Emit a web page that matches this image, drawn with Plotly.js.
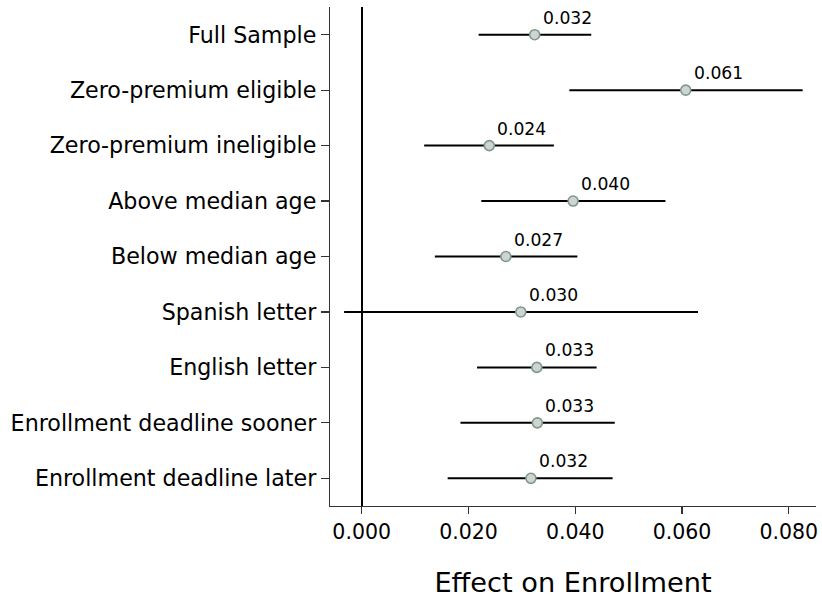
<!DOCTYPE html>
<html>
<head>
<meta charset="utf-8">
<script src="https://cdn.plot.ly/plotly-3.0.1.min.js"></script>
<style>html,body{margin:0;padding:0;background:#fff;}#chart{width:822px;height:598px;}</style>
</head>
<body>
<div id="chart"></div>
<script>
const categories = [
  "Full Sample",
  "Zero-premium eligible",
  "Zero-premium ineligible",
  "Above median age",
  "Below median age",
  "Spanish letter",
  "English letter",
  "Enrollment deadline sooner",
  "Enrollment deadline later"
];
const estimates = [0.0324, 0.0607, 0.0239, 0.0396, 0.0270, 0.0298, 0.0328, 0.0329, 0.0317];
const ciLower   = [0.0219, 0.0389, 0.0117, 0.0224, 0.0137, -0.0033, 0.0216, 0.0185, 0.0161];
const ciUpper   = [0.0430, 0.0826, 0.0360, 0.0569, 0.0404, 0.0630, 0.0440, 0.0474, 0.0470];
const xTicks = [0, 0.02, 0.04, 0.06, 0.08];

const font = "DejaVu Sans, Verdana, sans-serif";

const trace = {
  type: "scatter",
  mode: "markers",
  x: estimates,
  y: categories,
  marker: {size: 10, color: "#d0d3d1", line: {color: "#7b9a8b", width: 1.6}},
  error_x: {
    type: "data", symmetric: false,
    array: estimates.map((v, i) => ciUpper[i] - v),
    arrayminus: estimates.map((v, i) => v - ciLower[i]),
    width: 0, thickness: 2, color: "#000"
  },
  hoverinfo: "x+y",
  showlegend: false
};

const annotations = estimates.map((v, i) => ({
  x: v, y: categories[i], xref: "x", yref: "y",
  text: v.toFixed(3), showarrow: false,
  xanchor: "left", yanchor: "middle", xshift: 6, yshift: 17,
  font: {family: font, size: 17.2, color: "#000"}
}));

const layout = {
  width: 822, height: 598,
  margin: {l: 330, r: 6, t: 7, b: 92, pad: 0},
  paper_bgcolor: "#fff", plot_bgcolor: "#fff",
  font: {family: font, color: "#000"},
  xaxis: {
    range: [-0.00594, 0.0851],
    tickvals: xTicks,
    tickformat: ".3f",
    ticks: "outside", ticklen: 7, tickwidth: 1.2, tickcolor: "#333",
    showline: true, linecolor: "#333", linewidth: 1.2, mirror: false,
    showgrid: false,
    zeroline: true, zerolinecolor: "#000", zerolinewidth: 2,
    tickfont: {family: font, size: 20.5, color: "#000"},
    title: {text: "Effect on Enrollment", font: {family: font, size: 27.2, color: "#000"}, standoff: 30}
  },
  yaxis: {
    type: "category",
    categoryorder: "array", categoryarray: categories,
    range: [8.5, -0.5],
    ticks: "outside", ticklen: 8, tickwidth: 1.2, tickcolor: "#333",
    showline: true, linecolor: "#333", linewidth: 1.2, mirror: false,
    showgrid: false, zeroline: false,
    ticklabelstandoff: 0,
    tickfont: {family: font, size: 22.2, color: "#000"}
  },
  annotations: annotations
};

Plotly.newPlot("chart", [trace], layout, {displayModeBar: false, staticPlot: true});
</script>
</body>
</html>
